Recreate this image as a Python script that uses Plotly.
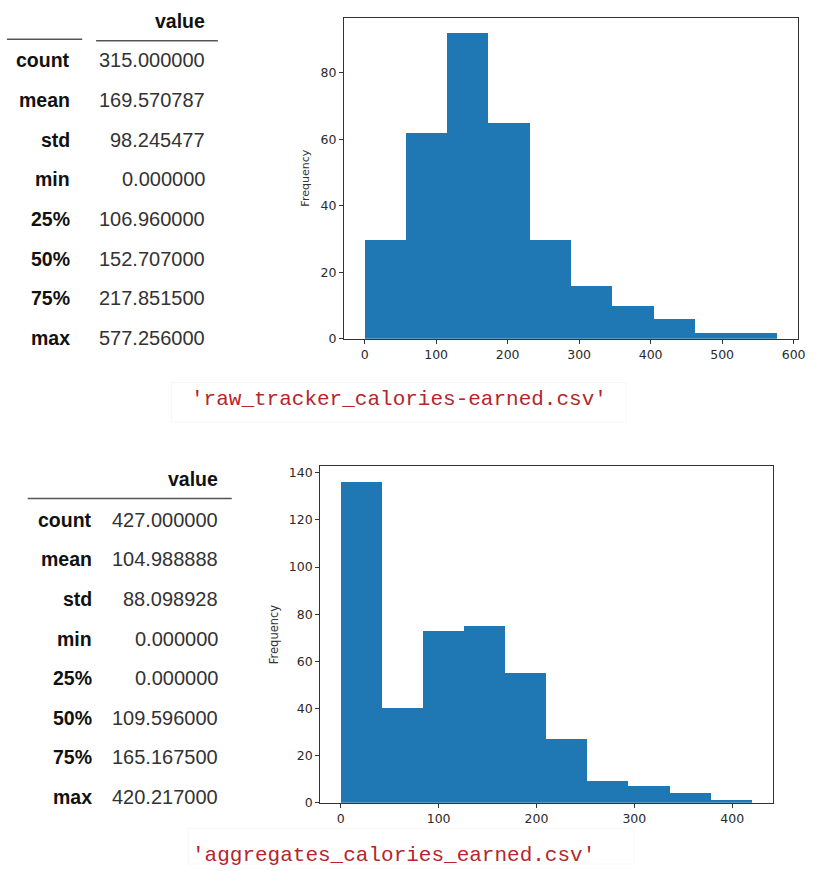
import numpy as np
import plotly.graph_objects as go

# ---------------- data ----------------
stat_labels = ["count", "mean", "std", "min", "25%", "50%", "75%", "max"]
raw_values = [315.0, 169.570787, 98.245477, 0.0, 106.96, 152.707, 217.8515, 577.256]
agg_values = [427.0, 104.988888, 88.098928, 0.0, 0.0, 109.596, 165.1675, 420.217]

raw_counts = [30, 62, 92, 65, 30, 16, 10, 6, 2, 2]
agg_counts = [136, 40, 73, 75, 55, 27, 9, 7, 4, 1]

raw_xticks = [0, 100, 200, 300, 400, 500, 600]
raw_yticks = [0, 20, 40, 60, 80]
agg_xticks = [0, 100, 200, 300, 400]
agg_yticks = [0, 20, 40, 60, 80, 100, 120, 140]

raw_caption = "'raw_tracker_calories-earned.csv'"
agg_caption = "'aggregates_calories_earned.csv'"

# ---------------- layout helpers ----------------
W, H = 837, 871
def px(x):
    return x / W
def py(y):
    return 1 - y / H

BLUE = "#1f77b4"
AX = "#333333"

def hist_trace(counts, vmin, vmax, xa, ya):
    edges = np.linspace(vmin, vmax, len(counts) + 1)
    centers = (edges[:-1] + edges[1:]) / 2
    widths = np.diff(edges)
    return go.Bar(x=centers, y=counts, width=widths, marker=dict(color=BLUE, line=dict(width=0)),
                  xaxis=xa, yaxis=ya, showlegend=False, hoverinfo="x+y")

fig = go.Figure()
fig.add_trace(hist_trace(raw_counts, raw_values[3], raw_values[7], "x", "y"))
fig.add_trace(hist_trace(agg_counts, agg_values[3], agg_values[7], "x2", "y2"))

def axis_common():
    return dict(showline=True, mirror=True, linecolor=AX, linewidth=1,
                ticks="outside", ticklen=4, tickcolor=AX, showgrid=False, zeroline=False,
                tickfont=dict(family="DejaVu Sans", size=12.5, color="#2a2a2a"))

raw_span = raw_values[7] - raw_values[3]
agg_span = agg_values[7] - agg_values[3]

fig.update_layout(
    width=W, height=H, margin=dict(l=0, r=0, t=0, b=0),
    paper_bgcolor="white", plot_bgcolor="white", bargap=0,
    xaxis=dict(domain=[px(347.3), px(805.7)], anchor="y",
               range=[raw_values[3] - 0.05 * raw_span, raw_values[7] + 0.05 * raw_span],
               tickvals=raw_xticks, **axis_common()),
    yaxis=dict(domain=[py(341), py(16.7)], anchor="x",
               range=[0, max(raw_counts) * 1.05], tickvals=raw_yticks,
               title=dict(text="Frequency", standoff=8, font=dict(family="DejaVu Sans", size=11, color=AX)),
               **axis_common()),
    xaxis2=dict(domain=[px(323.3), px(780)], anchor="y2",
                range=[agg_values[3] - 0.05 * agg_span, agg_values[7] + 0.05 * agg_span],
                tickvals=agg_xticks, **axis_common()),
    yaxis2=dict(domain=[py(809.3), py(469.5)], anchor="x2",
                range=[0, max(agg_counts) * 1.05], tickvals=agg_yticks,
                title=dict(text="Frequency", standoff=7, font=dict(family="DejaVu Sans", size=11.5, color=AX)),
                **axis_common()),
)

# ---------------- describe() tables ----------------
annotations = []
shapes = []

def add_table(values, label_x, value_x, header_y, row0_y, step):
    annotations.append(dict(text="<b>value</b>", x=px(value_x), y=py(header_y), xref="paper", yref="paper",
                            xanchor="right", yanchor="middle", showarrow=False,
                            font=dict(family="Liberation Sans", size=19.5, color="#111111")))
    for i, (lab, val) in enumerate(zip(stat_labels, values)):
        yy = row0_y + i * step
        annotations.append(dict(text="<b>%s</b>" % lab, x=px(label_x), y=py(yy), xref="paper", yref="paper",
                                xanchor="right", yanchor="middle", showarrow=False,
                                font=dict(family="Liberation Sans", size=19.5, color="#111111")))
        annotations.append(dict(text="%.6f" % val, x=px(value_x), y=py(yy), xref="paper", yref="paper",
                                xanchor="right", yanchor="middle", showarrow=False,
                                font=dict(family="Liberation Sans", size=20, color="#333333")))

add_table(raw_values, 73, 209, 20, 60, 40)
add_table(agg_values, 95, 222, 482, 523.5, 40)

# header rules
for x0, x1, y in [(7, 83, 38.5), (97, 220, 40), (28, 234, 502)]:
    shapes.append(dict(type="line", xref="paper", yref="paper", x0=px(x0), x1=px(x1), y0=py(y), y1=py(y),
                       line=dict(color="#555555", width=1.5)))

# faint caption frames
for x0, x1, y0, y1 in [(173, 632, 385, 425), (190, 640, 835, 871)]:
    shapes.append(dict(type="rect", xref="paper", yref="paper", x0=px(x0), x1=px(x1), y0=py(y1), y1=py(y0),
                       line=dict(color="#f7f7f7", width=1), fillcolor="rgba(0,0,0,0)"))

# captions
annotations.append(dict(text=raw_caption, x=px(403), y=py(402), xref="paper", yref="paper",
                        xanchor="center", yanchor="middle", showarrow=False,
                        font=dict(family="Liberation Mono", size=21, color="#b5262b")))
annotations.append(dict(text=agg_caption, x=px(397), y=py(862), xref="paper", yref="paper",
                        xanchor="center", yanchor="middle", showarrow=False,
                        font=dict(family="Liberation Mono", size=21, color="#b5262b")))

fig.update_layout(annotations=annotations, shapes=shapes)
fig.write_html("out.html", config={"displayModeBar": False},
               post_script="document.body.style.margin='0';document.body.style.padding='0';")
